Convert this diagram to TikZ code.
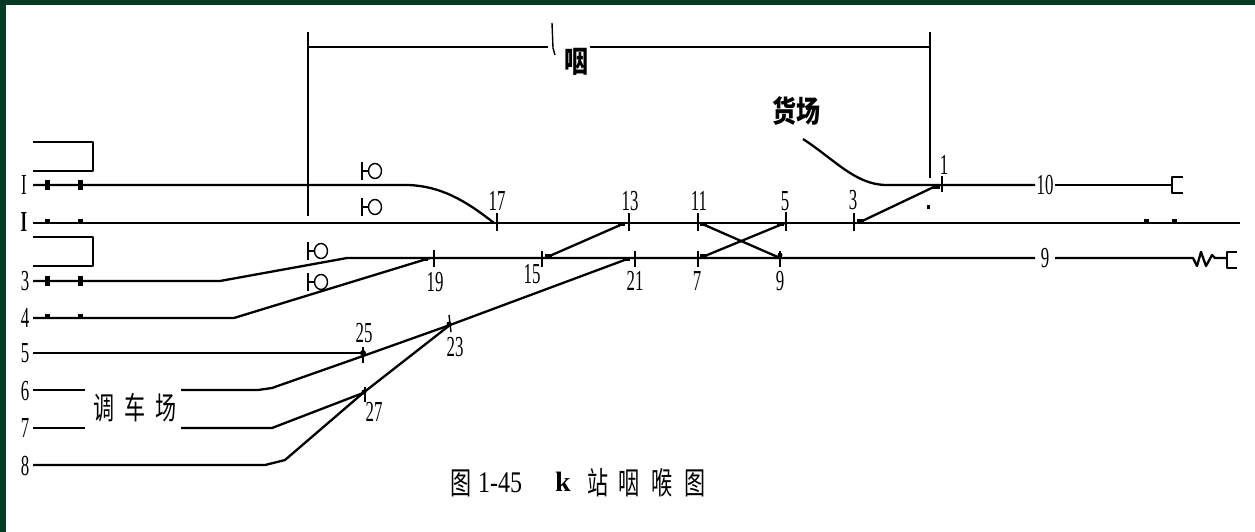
\documentclass[tikz,border=0pt]{standalone}
\usepackage{fontspec}
\setmainfont{Liberation Serif}
\newfontfamily\dig[FakeStretch=0.58]{Liberation Serif}
\newfontfamily\digw[FakeStretch=0.8]{Liberation Serif}
\newfontfamily\cjk[FakeStretch=0.68]{Noto Sans CJK SC}
\newfontfamily\cjkw[FakeStretch=0.8]{Noto Sans CJK SC}
\tikzset{
  track/.style={line width=2.3pt,black,line join=round},
  thin track/.style={line width=1.7pt,black,line join=round},
  tick/.style={line width=1.4pt,black},
  blob/.style={fill=black,draw=none},
  num/.style={inner sep=0pt,font=\dig\fontsize{29}{29}\selectfont},
  cjklab/.style={inner sep=0pt,font=\cjk\fontsize{31}{31}\selectfont},
  cjkbold/.style={inner sep=0pt,font=\cjkw\bfseries\fontsize{30}{30}\selectfont},
}
\begin{document}
\begin{tikzpicture}[x=1pt,y=-1pt]
\useasboundingbox (0,0) rectangle (1255,532);
\fill[white] (0,0) rectangle (1255,532);
\definecolor{frame}{RGB}{6,58,36}
\fill[frame] (0,0) rectangle (1255,5.5);
\fill[frame] (0,0) rectangle (6,532);
% named junctions
\foreach \n/\x/\y in {
 aI/33/185,bI/408/185,sw17/494/223,
 aII/33/223,bII/1240/223,
 a3/33/281,b3/220/281,c3/347/258,d3/1035/258,e3/1055/258,f3/1193/258,g3/1227/258,
 a4/33/318,b4/234/318,sw19/430/258,
 a5/33/353,sw25/363/353,
 a6/33/390,b6/85/390,c6/181/390,d6/258/390,e6/272/388,m25/363/356,sw23/450/325,sw21/630/258,
 a7/33/428,b7/85/428,c7/181/428,d7/272/428,sw27/363/393,
 a8/33/465,b8/265/465,c8/285/460,
 sw13/625/223,sw15/545/258,sw11/700/223,sw9/780/258,sw5/785/223,sw7/700/258,
 sw3/858/223,sw1/938/185,
 y0/803/139,y1/885/185,k1/1035/185,k2/1055/185,k3/1172/185,
 t1/308/32,t2/308/216,t3/308/47,t4/548/47,t5/590/47,t6/930/47,t7/930/32,t8/930/178}
 {\coordinate (\n) at (\x,\y);}
% tracks
\draw[track] (aI) -- (bI) .. controls (440,186) and (465,200) .. (sw17);
\draw[track] (aII) -- (bII);
\draw[track] (a3) -- (b3) -- (c3) -- (d3);
\draw[track] (e3) -- (f3) -- (1197,266) -- (1201,252) -- (1206,266) -- (1212,255) -- (1215,258) -- (g3);
\draw[track] (a4) -- (b4) -- (sw19);
\draw[track] (a5) -- (sw25);
\draw[track] (a6) -- (b6);
\draw[track] (c6) -- (d6) -- (e6) -- (m25) -- (sw23) -- (sw21);
\draw[track] (a7) -- (b7);
\draw[track] (c7) -- (d7) -- (sw27);
\draw[track] (a8) -- (b8) -- (c8) -- (sw27) -- (sw23);
\draw[track] (sw13) -- (sw15);
\draw[track] (sw11) -- (sw9);
\draw[track] (sw5) -- (sw7);
\draw[track] (sw3) -- (sw1);
\draw[track] (y0) .. controls (835,160) and (855,184) .. (y1) -- (k1);
\draw[track] (k2) -- (k3);
% buffer stops
\draw[track] (1183,177) -- (1172,177) -- (1172,193) -- (1183,193);
\draw[track] (1237,252) -- (1227,252) -- (1227,268) -- (1237,268);
% sidings at left
\draw[track] (33,142) -- (93,142) -- (93,171) -- (33,171);
\draw[track] (33,237) -- (93,237) -- (93,266) -- (33,266);
% extent lines
\draw[thin track] (t1) -- (t2);
\draw[track] (t3) -- (t4);
\draw[track] (t5) -- (t6);
\draw[thin track] (t7) -- (t8);
\draw[tick] (552,23) -- (553,48) -- (555,55);
% heavy marks on tracks
\foreach \x/\y in {47/185,80/185,47/281,80/281}
  \fill[blob] (\x-2.5,\y-5) rectangle (\x+2.5,\y+5);
\foreach \x/\y in {47/223,80/223,47/318,80/318,1146/223,1174/223}
  \fill[blob] (\x-2.5,\y-4) rectangle (\x+2.5,\y);
\fill[blob] (926.5,205) rectangle (929.5,209);
\foreach \x/\y in {622/224,549/256,704/224,704/256,781/224,861/221,937/187,627/259,425/259}
  \fill[blob] (\x-4,\y-2) rectangle (\x+3,\y+2);
\fill[blob] (780,255) circle (2.5);
\fill[blob] (363,353) circle (3);
\fill[blob] (364,392) circle (2.5);
\fill[blob] (449,324) circle (2.5);
% switch ticks
\foreach \x/\a/\b in {942/176/192,854/213/231,786/212/231,698/213/231,629/213/231,497/213/231,
  434/250/267,542/251/267,635/251/267,698/251/267,780/251/267,363/347/363,365/387/402}
  \draw[tick] (\x,\a) -- (\x,\b);
\draw[tick] (449,315) -- (451,332);
% signals
\foreach \x/\y in {362/171,362/207,308/251,308/282}{
  \draw[tick] (\x,\y-9) -- (\x,\y+9);
  \draw[tick] (\x,\y) -- (\x+6,\y);
  \draw[tick] (\x+13,\y) circle (6.5 and 7.5);
}
% switch numbers
\node[num] (n1) at (944,165) {1};
\node[num] (n3) at (853,200) {3};
\node[num] (n5) at (785,201) {5};
\node[num] (n11) at (699,201) {11};
\node[num] (n13) at (630,201) {13};
\node[num] (n17) at (497,201) {17};
\node[num] (n19) at (435,282) {19};
\node[num] (n15) at (532,274) {15};
\node[num] (n21) at (635,281) {21};
\node[num] (n7) at (697,281) {7};
\node[num] (n9) at (780,281) {9};
\node[num] (n23) at (455,347) {23};
\node[num] (n25) at (364,333) {25};
\node[num] (n27) at (374,412) {27};
\node[num] (n10) at (1045,185) {10};
\node[num] (t9) at (1045,258) {9};
% track numbers
\node[num] (lI) at (24,185) {I};
\node[num,font=\dig\bfseries\fontsize{29}{29}\selectfont] (lII) at (24,222) {I};
\node[num] (l3) at (25,281) {3};
\node[num] (l4) at (25,318) {4};
\node[num] (l5) at (25,353) {5};
\node[num] (l6) at (25,391) {6};
\node[num] (l7) at (25,428) {7};
\node[num] (l8) at (25,466) {8};
% Chinese labels
\node[cjkbold] (yan) at (576.5,62) {咽};
\node[cjkbold] (huo) at (796,111) {货场};
\node[cjklab] (yard) at (135,408) {调\hspace{10pt}车\hspace{10pt}场};
% caption
\node[cjklab] (c1) at (461.5,483) {图};
\node[inner sep=0pt,font=\digw\fontsize{30}{30}\selectfont] (c2) at (500,483) {1-45};
\node[inner sep=0pt,font=\bfseries\fontsize{28}{28}\selectfont] (c3) at (563,482) {k};
\node[cjklab] (c4) at (598,483) {站};
\node[cjklab] (c5) at (629,483) {咽};
\node[cjklab] (c6) at (662,483) {喉};
\node[cjklab] (c7) at (695,483) {图};
\end{tikzpicture}
\end{document}
